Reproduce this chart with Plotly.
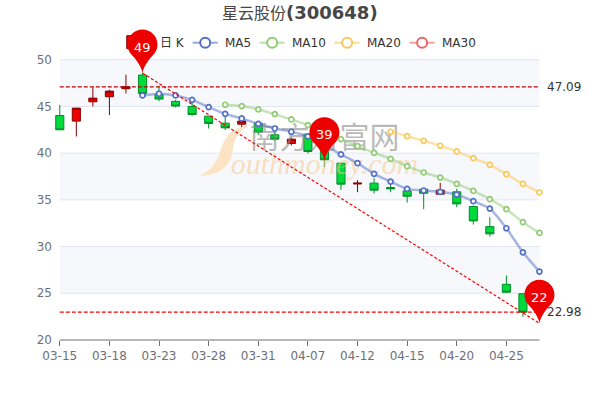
import plotly.graph_objects as go

dates = ["03-15","03-16","03-17","03-18","03-21","03-22","03-23","03-24","03-25","03-28",
         "03-29","03-30","03-31","04-01","04-06","04-07","04-08","04-11","04-12","04-13",
         "04-14","04-15","04-18","04-19","04-20","04-21","04-22","04-25","04-26","04-27"]
tick_labels = ["03-15","03-18","03-23","03-28","03-31","04-07","04-12","04-15","04-20","04-25"]
y_ticks = [20,25,30,35,40,45,50]

open_p  = [44.03,43.43,45.50,46.04,46.90,48.36,46.28,45.54,45.00,43.96,43.21,43.10,43.21,41.96,41.03,
           42.04,40.18,38.93,36.70,36.79,36.32,35.96,36.14,35.61,35.86,34.29,32.14,25.96,24.96,None]
close_p = [42.50,44.82,45.89,46.64,47.11,46.39,45.79,45.04,44.14,43.18,42.71,43.43,42.25,41.50,41.50,
           40.18,39.29,36.68,36.79,36.04,36.18,35.39,35.71,36.04,34.57,32.75,31.36,25.11,22.98,None]
high_p  = [45.15,44.82,47.07,46.79,48.39,48.57,47.21,45.71,45.36,43.96,43.86,44.10,43.32,42.43,41.68,
           42.10,40.30,38.93,37.11,37.32,37.07,36.30,36.14,36.82,36.18,34.40,33.14,26.89,24.96,None]
low_p   = [42.50,41.79,45.00,44.07,46.39,46.39,45.57,44.89,44.00,42.64,42.46,42.79,41.96,41.32,40.82,
           39.96,38.50,36.07,35.82,35.68,35.82,34.71,34.00,35.54,34.21,32.36,31.07,25.11,22.50,None]

ma5  = [None]*5 + [46.18,46.36,46.18,45.71,44.93,44.21,43.71,43.14,42.64,42.29,41.79,40.90,39.86,38.93,37.79,
                   36.96,36.18,36.00,35.86,35.57,34.86,34.07,31.96,29.39,27.32]
ma10 = [None]*10 + [45.18,45.04,44.68,44.18,43.61,43.00,42.25,41.50,40.75,40.04,39.39,38.61,37.93,37.39,36.71,
                    35.96,35.07,34.00,32.61,31.46]
ma20 = [None]*20 + [42.29,41.82,41.32,40.79,40.18,39.46,38.75,37.75,36.71,35.79]
ma30 = []

max_value = 47.09
min_value = 22.98
pin_dates = ["03-22","04-08","04-27"]
pin_values = [48.57,39.20,21.78]
pin_labels = ["49","39","22"]

W, H = 600, 400
L, R, T, B = 54.2, 556.5, 28.3, 340.0
UNIT = 280/30
X0, X1 = -0.35, 30.0
Y0, Y1 = 20, 20 + (B-T)/UNIT
TEXT = "DejaVu Sans, Noto Sans CJK SC, sans-serif"
px = lambda x: (x-L)/(R-L)
py = lambda y: (B-y)/(B-T)
yv = lambda v: (v-Y0)/(Y1-Y0)

fig = go.Figure()

fig.add_trace(go.Candlestick(
    x=dates, open=open_p, high=high_p, low=low_p, close=close_p, name="日K",
    increasing=dict(line=dict(color="#8A0000", width=1), fillcolor="#EC0000"),
    decreasing=dict(line=dict(color="#008F28", width=1), fillcolor="#00DA3C"),
    whiskerwidth=0, showlegend=False, hoverinfo="skip"))

# watermark text, under the moving-average lines and under the pins
fig.add_trace(go.Scatter(x=["04-08"], y=[41.35], mode="text", text=["南方财富网"], showlegend=False, hoverinfo="skip",
                         textposition="middle center",
                         textfont=dict(family="Noto Sans CJK SC", size=30, color="rgba(140,140,140,0.6)")))
fig.add_trace(go.Scatter(x=["04-08"], y=[38.6], mode="text", text=["<i>outhmoney.com</i>"], showlegend=False, hoverinfo="skip",
                         textposition="middle center",
                         textfont=dict(family="Liberation Serif", size=30, color="rgba(248,200,140,0.55)")))

def ma_trace(name, vals, color):
    return go.Scatter(x=dates[:len(vals)], y=vals, name=name, mode="lines", showlegend=False, hoverinfo="skip",
                      line=dict(color=color, width=2.5, shape="spline", smoothing=0.6), opacity=0.5)
def ma_pts(name, vals, color):
    return go.Scatter(x=dates[:len(vals)], y=vals, name=name + " points", mode="markers", showlegend=False, hoverinfo="skip",
                      marker=dict(size=5, color="white", line=dict(color=color, width=1.7)))

series = [("MA5", ma5, "#5470C6"), ("MA10", ma10, "#91CC75"), ("MA20", ma20, "#FAC858"), ("MA30", ma30, "#EE6666")]
for n, v, c in series:
    fig.add_trace(ma_trace(n, v, c))
for n, v, c in series:
    fig.add_trace(ma_pts(n, v, c))

fig.add_trace(go.Scatter(x=[dates[0], dates[-1]], y=[max_value, max_value], mode="lines", showlegend=False, hoverinfo="skip",
                         line=dict(color="#C00000", width=1.2, dash="4px,2px")))
fig.add_trace(go.Scatter(x=[dates[0], dates[-1]], y=[min_value, min_value], mode="lines", showlegend=False, hoverinfo="skip",
                         line=dict(color="#FF0000", width=1.2, dash="4px,2px")))
fig.add_trace(go.Scatter(x=[pin_dates[0], pin_dates[2]], y=[pin_values[0], pin_values[2]], mode="lines", showlegend=False, hoverinfo="skip",
                         line=dict(color="#FF0000", width=1.2, dash="3px,2px")))

shapes = []
GX0, GX1 = px(60), px(540)
for lo, hi in [(45,50),(35,40),(25,30)]:
    shapes.append(dict(type="rect", xref="paper", yref="paper", x0=GX0, x1=GX1, y0=yv(lo), y1=yv(hi), layer="below",
                       fillcolor="#F6F8FC", line=dict(width=0)))
for v in y_ticks[1:]:
    shapes.append(dict(type="line", xref="paper", yref="paper", x0=GX0, x1=GX1, y0=yv(v), y1=yv(v), layer="below",
                       line=dict(color="#E0E6F1", width=1)))
shapes.append(dict(type="line", xref="paper", yref="paper", x0=GX0, x1=GX1, y0=yv(20), y1=yv(20), layer="below",
                   line=dict(color="#6E7079", width=1)))

def P(x, y): return f"{px(x):.4f} {py(y):.4f}"
swoosh = (f"M {P(252,125)} C {P(236,126)} {P(226,134)} {P(221,150)} C {P(217,163)} {P(211,171)} {P(200,176)} "
          f"C {P(220,176)} {P(232,165)} {P(233,150)} C {P(234,138)} {P(240,129)} {P(252,125)} Z")
shapes.append(dict(type="path", xref="paper", yref="paper", path=swoosh, layer="below",
                   fillcolor="#FBE3C4", line=dict(width=0)))

legend_y = py(43)
shapes.append(dict(type="rect", xref="paper", yref="paper", x0=px(127), x1=px(152), y0=py(36), y1=py(49),
                   fillcolor="#EC0000", line=dict(color="#8A0000", width=1)))
annotations = []
legend_items = [("MA5", 193, "#5470C6"), ("MA10", 260, "#91CC75"), ("MA20", 335, "#FAC858"), ("MA30", 410, "#EE6666")]
for name, x, c in legend_items:
    shapes.append(dict(type="line", xref="paper", yref="paper", x0=px(x), x1=px(x+25), y0=legend_y, y1=legend_y,
                       line=dict(color=c, width=2), opacity=0.6))
    shapes.append(dict(type="circle", xref="paper", yref="paper", x0=px(x+7.5), x1=px(x+17.5), y0=py(48), y1=py(38),
                       fillcolor="white", line=dict(color=c, width=2)))
    annotations.append(dict(text=name, xref="paper", yref="paper", x=px(x+30), y=legend_y, xanchor="left", yanchor="middle",
                            showarrow=False, font=dict(family=TEXT, size=12, color="#333333")))
annotations.append(dict(text="日 K", xref="paper", yref="paper", x=px(158), y=legend_y, xanchor="left", yanchor="middle",
                        showarrow=False, font=dict(family=TEXT, size=12, color="#333333")))

pin_path = ("M 0 0 C -1 6 -5 12 -11.5 19 C -13.7 21.5 -15 24.9 -15 28.5 C -15 36.8 -8.3 43.5 0 43.5 "
            "C 8.3 43.5 15 36.8 15 28.5 C 15 24.9 13.7 21.5 11.5 19 C 5 12 1 6 0 0 Z")
for d, v, t in zip(pin_dates, pin_values, pin_labels):
    shapes.append(dict(type="path", xref="x", yref="y", xsizemode="pixel", ysizemode="pixel",
                       xanchor=d, yanchor=v, path=pin_path, fillcolor="#EC0000", line=dict(width=0), layer="above"))
    annotations.append(dict(text=t, x=d, y=v, xref="x", yref="y", yshift=26, showarrow=False,
                            font=dict(family=TEXT, size=13, color="white")))

for v in (max_value, min_value):
    annotations.append(dict(text=f"{v:.2f}", xref="paper", yref="y", x=px(545), y=v, xanchor="left", yanchor="middle",
                            showarrow=False, font=dict(family=TEXT, size=12, color="#333333")))

annotations.append(dict(text='<span style="font-size:16px">星云股份</span><b>(300648)</b>', xref="paper", yref="paper", x=px(300), y=py(13),
                        xanchor="center", yanchor="middle", showarrow=False,
                        font=dict(family=TEXT, size=18, color="#464646")))

fig.update_layout(
    width=W, height=H, autosize=False,
    margin=dict(l=L, r=W-R, t=T, b=H-B, pad=0),
    paper_bgcolor="white", plot_bgcolor="rgba(0,0,0,0)", showlegend=False,
    boxgap=0.3, shapes=shapes, annotations=annotations,
    xaxis=dict(type="category", categoryorder="array", categoryarray=dates, range=[X0, X1],
               rangeslider=dict(visible=False), showgrid=False, zeroline=False, showline=False,
               tickmode="array", tickvals=tick_labels, ticktext=tick_labels, ticks="outside", ticklen=5, tickwidth=1,
               tickcolor="#6E7079", tickfont=dict(family=TEXT, size=12, color="#6E7079")),
    yaxis=dict(range=[Y0, Y1], showgrid=False, zeroline=False, showline=False, tickmode="array", tickvals=y_ticks,
               ticks="", tickfont=dict(family=TEXT, size=12, color="#6E7079"), ticklabelstandoff=1),
)
fig.write_html("out.html", config=dict(displayModeBar=False),
               post_script="document.body.style.margin='0';window.dispatchEvent(new Event('resize'));")
